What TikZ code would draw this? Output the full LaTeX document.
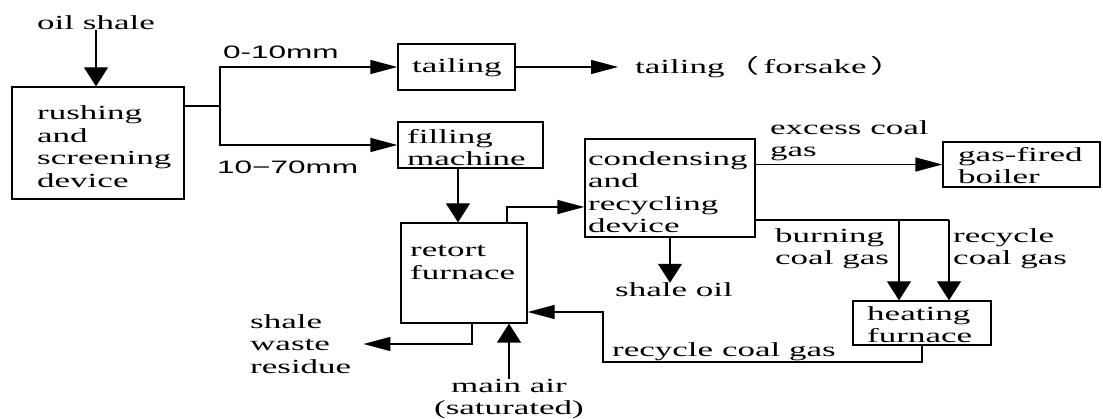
\documentclass[tikz,border=0pt]{standalone}
\usepackage{fontspec}
\setmainfont[FakeStretch=1.75]{Liberation Serif}
\newfontfamily\sansw[FakeStretch=1.75]{Liberation Sans}
\newfontfamily\cjkw[FakeStretch=1.75]{Noto Sans CJK SC}
\usetikzlibrary{arrows.meta}
\begin{document}
\begin{tikzpicture}[x=1pt,y=-1pt,
  every node/.style={inner sep=0pt, font=\fontsize{20}{22.5}\selectfont},
  box/.style={draw, line width=1.3pt, rectangle},
  txt/.style={align=left, anchor=west},
  sans/.style={font=\fontsize{18}{20}\selectfont\sansw},
  line/.style={line width=1.3pt},
  harr/.style={line, -{Triangle[length=27pt,width=14pt]}},
  varr/.style={line, -{Triangle[length=19pt,width=24pt]}},
]
\useasboundingbox (0,0) rectangle (1103,419);
% boxes
\node[box, minimum width=172pt, minimum height=112pt] (rush) at (98,143) {};
\node[box, minimum width=117pt, minimum height=46pt] (tail) at (456.5,67) {};
\node[box, minimum width=145pt, minimum height=46pt] (fill) at (470.5,145) {};
\node[box, minimum width=126pt, minimum height=100pt] (retort) at (464,273) {};
\node[box, minimum width=170pt, minimum height=98pt] (cond) at (670,188) {};
\node[box, minimum width=157pt, minimum height=45pt] (gasb) at (1021.5,164.5) {};
\node[box, minimum width=138pt, minimum height=44pt] (heat) at (922,323) {};
% texts
\node[txt] (toil) at (37,23) {oil shale};
\node[txt] (trush) at (37,146.5) {rushing\\and\\screening\\device};
\node[txt,sans] (t010) at (223,52) {0-10mm};
\node[txt,sans] (t1070) at (217,167) {10−70mm};
\node[txt] (ttail) at (412,68) {tailing};
\node[txt] (forsake) at (635,67) {tailing{\cjkw （}\hspace{4pt}forsake\hspace{4pt}{\cjkw ）}};
\node[txt] (tfill) at (407,147.5) {filling\\machine};
\node[txt] (tcond) at (588,192) {condensing\\and\\recycling\\device};
\node[txt] (texcess) at (770,140.5) {excess coal\\gas};
\node[txt] (tgasb) at (958,165.5) {gas-fired\\boiler};
\node[txt] (tburn) at (775,248.5) {burning\\coal gas};
\node[txt] (trecy) at (953,248.5) {recycle\\coal gas};
\node (soil) at (674,290) {shale oil};
\node[txt] (tretort) at (410,262.5) {retort\\furnace};
\node[txt] (resid) at (250,344) {shale\\waste\\residue};
\node[align=center] (air) at (509,399) {main air\\(saturated)};
\node[txt] (trec2) at (612,352) {recycle coal gas};
\node[txt] (theat) at (867,324.5) {heating\\furnace};
% connectors
\draw[varr] (toil.south) -- (toil.south |- rush.north);
\coordinate (split) at (220,106);
\draw[line] (rush.east |- split) -- (split);
\draw[harr] (split) |- (tail.west);
\draw[harr] (split) |- (fill.west);
\draw[harr] (tail.east) -- ([xshift=-17pt]forsake.west);
\draw[varr] ([xshift=-12.5pt]fill.south) -- ([xshift=-12.5pt]fill.south |- retort.north);
\draw[harr] ([xshift=43pt]retort.north) |- ([yshift=-19pt]cond.west);
\draw[varr] (cond.south) -- (cond.south |- soil.north);
\draw[harr] (cond.east |- gasb.west) -- (gasb.west);
\coordinate (j1) at (899,220);
\coordinate (j2) at (949,220);
\draw[line] (cond.east |- j2) -- (j2);
\draw[varr] (j1) -- (j1 |- heat.north);
\draw[varr] (j2) -- (j2 |- heat.north);
\coordinate (r1) at (603,362);
\draw[harr] (heat.south) |- (r1) |- ([yshift=-39pt]retort.east);
\draw[harr] ([xshift=8pt]retort.south) |- ([xshift=12pt]resid.east);
\draw[varr] (air.north) -- (air.north |- retort.south);
\end{tikzpicture}
\end{document}
